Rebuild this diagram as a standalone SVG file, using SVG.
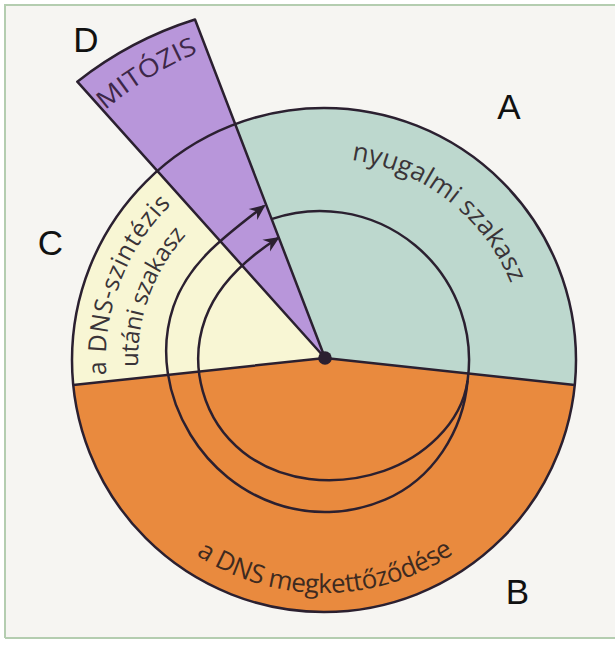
<svg xmlns="http://www.w3.org/2000/svg" width="615" height="648" viewBox="0 0 615 648">
  <style>
    .edge { fill: none; stroke: #2b2030; stroke-width: 2.5; stroke-linejoin: round; }
    .letter { font-family: "Liberation Sans", Arial, sans-serif; font-size: 35px; fill: #111; text-anchor: middle; }
    .lbl { font-family: "Open Sans", "Liberation Sans", sans-serif; text-anchor: middle; fill: #3a3438; }
    .frame { stroke: #b4cdb0; stroke-width: 2; fill: none; }
  </style>
  <defs>
    <marker id="arrow" viewBox="-16 -8 19 16" markerWidth="19" markerHeight="16" refX="0" refY="0" orient="auto" markerUnits="userSpaceOnUse">
      <path d="M2,0 L-14,-7 L-9,0 L-14,7 Z" fill="#2b2030"/>
    </marker>
    <path id="pMit" d="M69.7,146.6 A332 332 0 0 1 243.7,37.9"/>
    <path id="pNyu" d="M288.9,161.1 A202 202 0 0 1 525.2,342.4"/>
    <path id="pDns1" d="M119.1,434.6 A218 218 0 0 1 215,171.2"/>
    <path id="pDns2" d="M149.2,423.6 A186 186 0 0 1 231,198.9"/>
    <path id="pDnsB" d="M145.5,509.8 A233 233 0 0 0 502.5,509.8"/>
  </defs>

  <rect x="0" y="0" width="615" height="648" fill="#ffffff"/>
  <rect x="5" y="5" width="615" height="633" fill="#f6f5f2"/>
  <path class="frame" d="M5,638 L5,5 L615,5 M5,638 L615,638"/>

  <g id="sector-B">
    <path d="M325,358 L73.25,385 A252 252 0 0 0 574.75,385 Z" fill="#e98a3e"/>
  </g>
  <g id="sector-A">
    <path d="M325,358 L574.75,385 A252 252 0 0 0 235.2,124.2 Z" fill="#bdd8ce"/>
  </g>
  <g id="sector-C">
    <path d="M325,358 L157.3,171 A252 252 0 0 0 73.25,385 Z" fill="#f8f6d4"/>
  </g>
  <g id="sector-D">
    <path d="M325,358 L77.3,81.7 A367 367 0 0 1 195,19.5 Z" fill="#b896da"/>
  </g>

  <g id="outlines">
    <circle class="edge" cx="324" cy="360" r="252"/>
    <path class="edge" d="M325,358 L77.3,81.7 A367 367 0 0 1 195,19.5 Z"/>
    <path class="edge" d="M73.25,385 L325,358 L574.75,385"/>
  </g>

  <g id="connectors">
    <path class="edge" marker-end="url(#arrow)" d="M272.2,218.9 A149 149 0 0 1 467.6,380.7 C463.3,431 433.1,479.1 385.1,499.6 C311.6,531 231,500.85 190.5,434.75 C167.4,397.05 158.7,350.3 173.4,306.6 C188.3,262.2 226.1,235.3 264,206"/>
    <path class="edge" marker-end="url(#arrow)" d="M467.6,380.7 C461.3,425.3 421.3,458.05 384,470.85 C334.7,487.8 280.4,481.8 242.9,451.9 C203.5,420.5 187.9,366.4 205.4,318.3 C217.9,283.9 245.6,258.8 278,238"/>
    <circle cx="325" cy="358" r="6.8" fill="#2b2030"/>
  </g>

  <g id="labels">
    <text class="lbl" font-size="25" style="fill:#3d2748"><textPath href="#pMit" startOffset="50.7%" textLength="110" lengthAdjust="spacingAndGlyphs">MITÓZIS</textPath></text>
    <text class="lbl" font-size="26"><textPath href="#pNyu" startOffset="50.3%" textLength="211" lengthAdjust="spacing">nyugalmi szakasz</textPath></text>
    <text class="lbl" font-size="25"><textPath href="#pDns1" startOffset="51%" textLength="188" lengthAdjust="spacing">a DNS-szintézis</textPath></text>
    <text class="lbl" font-size="24"><textPath href="#pDns2" startOffset="50%" textLength="144" lengthAdjust="spacing">utáni szakasz</textPath></text>
    <text class="lbl" font-size="26" style="fill:#3e2a20"><textPath href="#pDnsB" startOffset="50.3%" textLength="273" lengthAdjust="spacing">a DNS megkettőződése</textPath></text>
    <text class="letter" x="509" y="119">A</text>
    <text class="letter" x="517.5" y="604">B</text>
    <text class="letter" x="50.5" y="255">C</text>
    <text class="letter" x="86" y="52">D</text>
  </g>
</svg>
